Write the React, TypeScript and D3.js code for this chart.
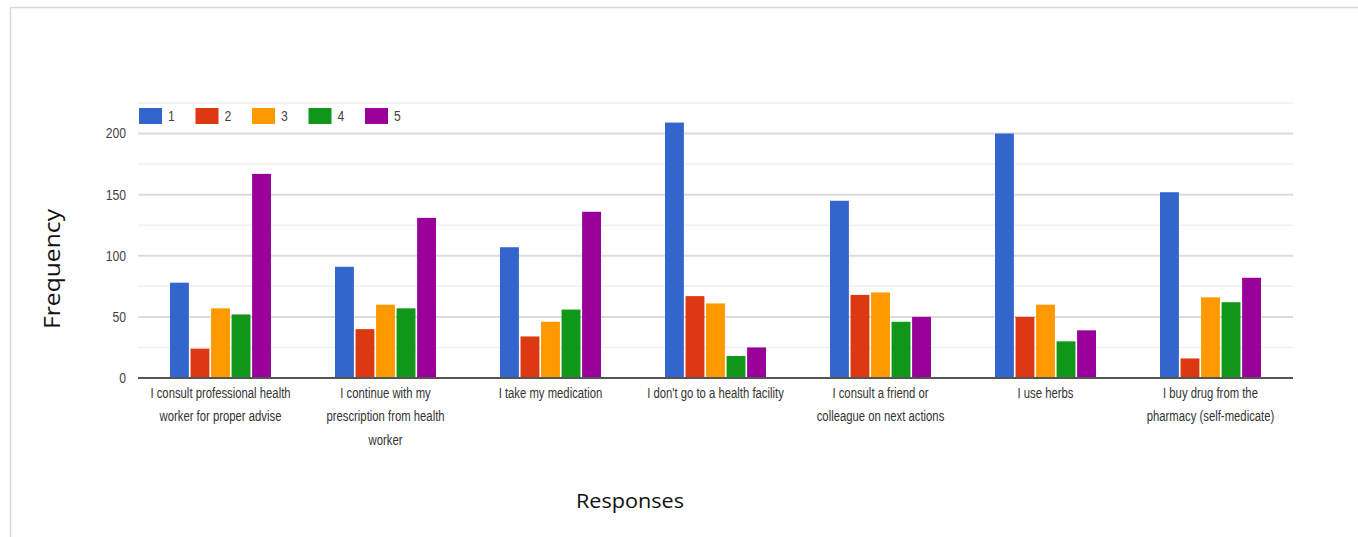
import React from "react";
import * as d3 from "d3";

const categories = [
  "I consult professional health\nworker for proper advise",
  "I continue with my\nprescription from health\nworker",
  "I take my medication",
  "I don't go to a health facility",
  "I consult a friend or\ncolleague on next actions",
  "I use herbs",
  "I buy drug from the\npharmacy (self-medicate)",
];
const seriesNames = ["1", "2", "3", "4", "5"];
const s1 = [78, 91, 107, 209, 145, 200, 152];
const s2 = [24, 40, 34, 67, 68, 50, 16];
const s3 = [57, 60, 46, 61, 70, 60, 66];
const s4 = [52, 57, 56, 18, 46, 30, 62];
const s5 = [167, 131, 136, 25, 50, 39, 82];
const seriesValues = [s1, s2, s3, s4, s5];
const colors = ["#3366cc", "#dc3912", "#ff9900", "#109618", "#990099"];
const yTicks = [0, 50, 100, 150, 200];
const yMinor = [25, 75, 125, 175, 225];

const W = 1358;
const H = 537;
const left = 138;
const right = 1293;
const top = 103;
const bottom = 378;

export default function App() {
  const x0 = d3.scaleBand<number>().domain(d3.range(categories.length)).range([left, right]).paddingInner(0.388).paddingOuter(0.194);
  const x1 = d3.scaleBand<number>().domain(d3.range(seriesNames.length)).range([0, x0.bandwidth()]).paddingInner(0.08);
  const y = d3.scaleLinear().domain([0, 225]).range([bottom, top]);
  const narrow = "'Liberation Sans Narrow', 'Arial Narrow', 'Liberation Sans', Arial, sans-serif";
  const sx = 0.87;

  return (
    <svg width={W} height={H} style={{ position: "absolute", left: 0, top: 0, background: "#fff" }}>
      <rect x={0} y={0} width={W} height={H} fill="#fff" />
      {/* outer frame */}
      <line x1={10.5} y1={7} x2={10.5} y2={H} stroke="#d9d9d9" strokeWidth={1.5} />
      <line x1={10} y1={7.5} x2={W} y2={7.5} stroke="#d9d9d9" strokeWidth={1.5} />

      {/* gridlines */}
      {yMinor.map((t) => (
        <line key={"m" + t} x1={left} x2={right} y1={y(t)} y2={y(t)} stroke="#f0f0f0" strokeWidth={1.5} />
      ))}
      {yTicks.filter((t) => t > 0).map((t) => (
        <line key={"g" + t} x1={left} x2={right} y1={y(t)} y2={y(t)} stroke="#dcdcdc" strokeWidth={2} />
      ))}

      {/* y tick labels */}
      {yTicks.map((t) => (
        <text
          key={"t" + t}
          transform={`translate(126,${y(t)}) scale(${sx},1)`}
          dy="0.35em"
          textAnchor="end"
          fontFamily={narrow}
          fontSize={14}
          fill="#444"
        >
          {t}
        </text>
      ))}

      {/* bars */}
      {categories.map((c, i) => (
        <g key={"c" + i} transform={`translate(${x0(i)},0)`}>
          {seriesValues.map((vals, s) => (
            <rect
              key={s}
              x={x1(s)}
              y={y(vals[i])}
              width={x1.bandwidth()}
              height={y(0) - y(vals[i])}
              fill={colors[s]}
            />
          ))}
        </g>
      ))}

      {/* baseline */}
      <line x1={left} x2={right} y1={bottom} y2={bottom} stroke="#555" strokeWidth={2} />

      {/* category labels */}
      {categories.map((c, i) => (
        <text
          key={"l" + i}
          transform={`translate(${(x0(i) as number) + x0.bandwidth() / 2},0) scale(0.78,1)`}
          textAnchor="middle"
          fontFamily={narrow}
          fontSize={14.5}
          fill="#333"
        >
          {c.split("\n").map((line, k) => (
            <tspan key={k} x={0} y={398 + k * 23.5}>
              {line}
            </tspan>
          ))}
        </text>
      ))}

      {/* legend */}
      {seriesNames.map((n, s) => (
        <g key={"lg" + s} transform={`translate(${139 + s * 56.5},108)`}>
          <rect x={0} y={0} width={23} height={16} fill={colors[s]} />
          <text transform={`translate(29,8) scale(${sx},1)`} dy="0.35em" fontFamily={narrow} fontSize={14} fill="#444">
            {n}
          </text>
        </g>
      ))}

      {/* axis titles */}
      <text
        transform={`translate(60,269) rotate(-90)`}
        textAnchor="middle"
        fontFamily="'Open Sans', 'Noto Sans', sans-serif"
        fontSize={22}
        textLength={120}
        lengthAdjust="spacingAndGlyphs"
        fill="#111"
      >
        Frequency
      </text>
      <text
        x={630}
        y={508}
        textAnchor="middle"
        fontFamily="'Open Sans', 'Noto Sans', sans-serif"
        fontSize={20}
        textLength={108}
        lengthAdjust="spacingAndGlyphs"
        fill="#111"
      >
        Responses
      </text>
    </svg>
  );
}
